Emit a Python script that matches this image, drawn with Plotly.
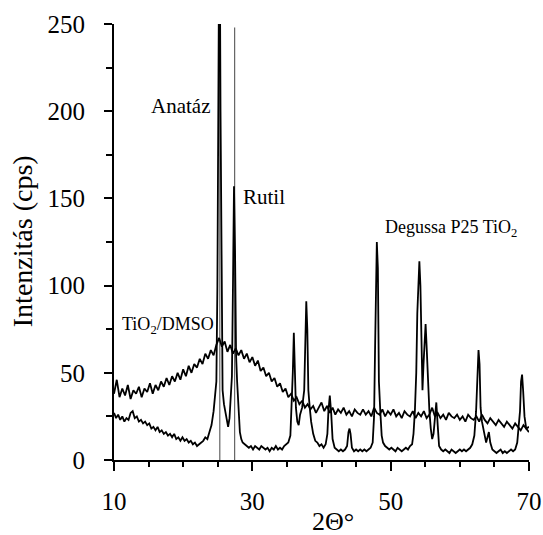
import numpy as np
import plotly.graph_objects as go

# ---- Data ----
# Degussa P25 TiO2 pattern (2-theta, intensity)
p25_x = [10.0, 10.3, 10.6, 10.9, 11.2, 11.5, 11.8, 12.1, 12.4, 12.7, 13.0, 13.3, 13.6, 13.9, 14.2, 14.5,
         14.8, 15.1, 15.4, 15.7, 16.0, 16.3, 16.6, 16.9, 17.2, 17.5, 17.8, 18.1, 18.4, 18.7, 19.0, 19.3,
         19.6, 19.9, 20.2, 20.5, 20.8, 21.1, 21.4, 21.7, 22.0, 22.3, 22.6, 22.9, 23.2, 23.5, 23.8, 24.1,
         24.4, 24.6, 24.8, 24.95, 25.1, 25.25, 25.4, 25.55, 25.7, 25.9, 26.1, 26.3, 26.5, 26.7, 26.9,
         27.05, 27.2, 27.35, 27.5, 27.65, 27.8, 28.0, 28.2, 28.4, 28.6, 28.9, 29.2, 29.5, 29.8, 30.1,
         30.4, 30.7, 31.0, 31.3, 31.6, 31.9, 32.2, 32.5, 32.8, 33.1, 33.4, 33.7, 34.0, 34.3, 34.6, 34.9,
         35.2, 35.5, 35.7, 35.85, 36.0, 36.15, 36.3, 36.5, 36.7, 36.9, 37.2, 37.5, 37.65, 37.8, 37.95,
         38.1, 38.3, 38.5, 38.8, 39.1, 39.4, 39.7, 40.0, 40.3, 40.6, 40.85, 41.0, 41.2, 41.4, 41.6, 41.9,
         42.2, 42.5, 42.8, 43.1, 43.4, 43.7, 43.9, 44.05, 44.2, 44.4, 44.7, 45.0, 45.3, 45.6, 45.9, 46.2,
         46.5, 46.8, 47.1, 47.4, 47.6, 47.75, 47.9, 48.0, 48.15, 48.3, 48.5, 48.7, 48.9, 49.2, 49.5, 49.8,
         50.1, 50.4, 50.7, 51.0, 51.3, 51.6, 51.9, 52.2, 52.5, 52.8, 53.1, 53.3, 53.5, 53.7, 53.85, 54.0,
         54.15, 54.3, 54.45, 54.6, 54.75, 54.9, 55.05, 55.2, 55.4, 55.6, 55.8, 56.0, 56.2, 56.45, 56.6,
         56.8, 57.0, 57.3, 57.6, 57.9, 58.2, 58.5, 58.8, 59.1, 59.4, 59.7, 60.0, 60.3, 60.6, 60.9, 61.2,
         61.5, 61.8, 62.1, 62.35, 62.55, 62.7, 62.85, 63.0, 63.2, 63.5, 63.8, 64.0, 64.2, 64.4, 64.7, 65.0,
         65.3, 65.6, 65.9, 66.2, 66.5, 66.8, 67.1, 67.4, 67.7, 68.0, 68.3, 68.55, 68.7, 68.85, 69.0,
         69.15, 69.35, 69.6, 69.8, 70.0]
p25_y = [27, 24, 26, 23, 25, 22, 24, 23, 27, 28, 24, 25, 22, 23, 21, 22,
         20, 21, 18, 19, 17, 19, 16, 17, 15, 16, 14, 15, 13, 15, 12, 13,
         11, 13, 11, 12, 10, 11, 9, 10, 8, 9, 10, 11, 13, 12, 16, 20,
         28, 38, 45, 100, 200, 330, 200, 100, 40, 32, 28, 22, 19, 24, 38,
         48, 100, 157, 120, 60, 45, 28, 16, 12, 10, 9, 8, 7, 8, 6,
         8, 7, 6, 8, 7, 6, 7, 5, 7, 6, 8, 6, 7, 6, 8, 9,
         10, 14, 30, 50, 73, 50, 30, 22, 20, 26, 30, 40, 70, 91, 75,
         40, 30, 22, 15, 11, 10, 8, 9, 7, 9, 15, 28, 37, 27, 12, 7,
         6, 5, 6, 5, 6, 8, 16, 18, 15, 7, 5, 6, 5, 6, 5, 6,
         5, 6, 7, 10, 25, 65, 100, 125, 110, 45, 28, 14, 10, 8, 7, 6,
         7, 6, 5, 7, 6, 5, 6, 7, 6, 8, 9, 15, 28, 50, 84, 100,
         114, 100, 65, 40, 55, 70, 78, 65, 45, 28, 18, 12, 15, 30, 33,
         20, 8, 6, 5, 6, 5, 4, 6, 5, 4, 5, 6, 5, 6, 5, 6,
         7, 9, 14, 28, 50, 63, 55, 30, 22, 15, 10, 13, 16, 10, 6, 5,
         4, 5, 6, 4, 5, 4, 5, 6, 5, 6, 10, 20, 28, 45, 49,
         40, 25, 18, 17, 16]

# TiO2/DMSO pattern, sampled every 0.4 degrees from 10 to 70
dmso_start, dmso_step = 10.0, 0.4
dmso_y = [38, 46, 36, 41, 37, 43, 35, 40, 38, 42,
          36, 41, 39, 44, 38, 43, 40, 45, 42, 47,
          43, 48, 45, 50, 46, 52, 48, 54, 50, 55,
          53, 58, 55, 61, 58, 63, 60, 66, 70, 65,
          68, 62, 66, 61, 64, 60, 63, 58, 61, 56,
          59, 54, 57, 51, 53, 48, 50, 45, 47, 42,
          44, 39, 41, 36, 38, 34, 36, 32, 34, 30,
          32, 29, 31, 27, 30, 33, 28, 31, 27, 30,
          26, 29, 27, 30, 26, 28, 25, 29, 27, 26,
          29, 26, 28, 25, 30, 27, 26, 29, 25, 28,
          26, 29, 25, 27, 24, 28, 26, 25, 28, 24,
          27, 25, 28, 24, 26, 30, 25, 27, 24, 26,
          23, 27, 25, 24, 26, 23, 25, 22, 26, 24,
          23, 25, 22, 26, 23, 21, 24, 22, 20, 23,
          21, 19, 22, 20, 18, 21, 19, 17, 20, 18,
          19]
dmso_x = [dmso_start + i * dmso_step for i in range(len(dmso_y))]

# Reference peak positions (anatase, rutile)
ref_x = [25.3, 27.45]
ref_top = [260, 248]

# Labels
labels = ["Anatáz", "Rutil", "Degussa P25 TiO<sub>2</sub>", "TiO<sub>2</sub>/DMSO"]
label_x = [15.1, 28.3, 48.85, 10.85]
label_y = [203, 151, 133, 77]
label_size = [21, 21, 18, 18]

x_ticks = [10, 30, 50, 70]
y_ticks = [0, 50, 100, 150, 200, 250]

FONT = "Liberation Serif"

fig = go.Figure()
for rx, rt in zip(ref_x, ref_top):
    fig.add_trace(go.Scatter(x=[rx, rx], y=[0, rt], mode="lines",
                             line=dict(color="#444444", width=1), showlegend=False, hoverinfo="skip"))
fig.add_trace(go.Scatter(x=dmso_x, y=dmso_y, mode="lines",
                         line=dict(color="black", width=1.8), showlegend=False))
fig.add_trace(go.Scatter(x=p25_x, y=p25_y, mode="lines",
                         line=dict(color="black", width=1.8), showlegend=False))

for t, lx, ly, s in zip(labels, label_x, label_y, label_size):
    fig.add_annotation(x=lx, y=ly, xref="x", yref="y", text=t, showarrow=False,
                       xanchor="left", yanchor="middle", font=dict(family=FONT, size=s, color="black"))

fig.add_annotation(x=41.6, y=-0.141, xref="x", yref="paper", text="2Θ°", showarrow=False,
                   xanchor="center", yanchor="middle", font=dict(family=FONT, size=26, color="black"))
fig.add_annotation(x=-0.2215, y=0.502, xref="paper", yref="paper", text="Intenzitás (cps)",
                   showarrow=False, textangle=-90, xanchor="center", yanchor="middle",
                   font=dict(family=FONT, size=28, color="black"))

fig.update_xaxes(range=[10, 70], tickvals=x_ticks, ticks="outside", ticklen=9, tickwidth=2,
                 tickcolor="black", showline=True, linecolor="black", linewidth=2,
                 showgrid=False, zeroline=False, ticklabelstandoff=9, automargin=False,
                 minor=dict(dtick=5, ticks="outside", ticklen=5, tickwidth=2, tickcolor="black", showgrid=False),
                 tickfont=dict(family=FONT, size=25, color="black"))
fig.update_yaxes(range=[0, 250], tickvals=y_ticks, ticks="outside", ticklen=8, tickwidth=2,
                 tickcolor="black", showline=True, linecolor="black", linewidth=2,
                 showgrid=False, zeroline=False, ticklabelstandoff=14, automargin=False,
                 minor=dict(dtick=25, ticks="outside", ticklen=6, tickwidth=2, tickcolor="black", showgrid=False),
                 tickfont=dict(family=FONT, size=25, color="black"))

fig.update_layout(width=543, height=535, margin=dict(l=114, r=14, t=24, b=75),
                  paper_bgcolor="white", plot_bgcolor="white", showlegend=False)

fig.write_html("out.html")
